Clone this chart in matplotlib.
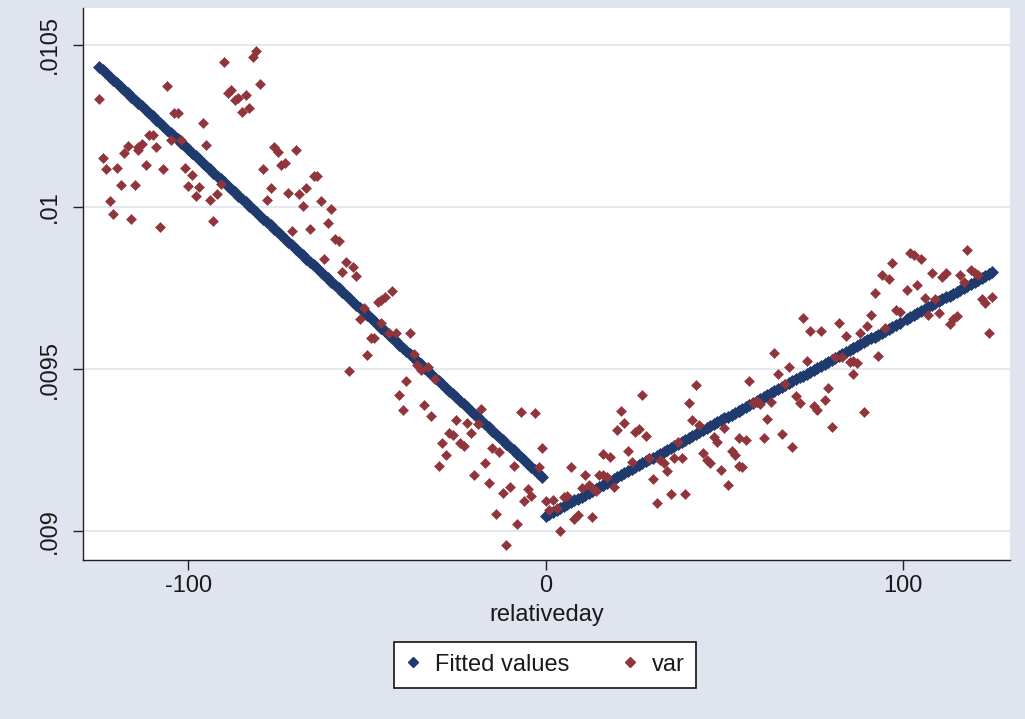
import numpy as np
import matplotlib
matplotlib.use("Agg")
import matplotlib.pyplot as plt
from matplotlib.lines import Line2D

# Observations before the event (relativeday < 0)
pre_days = [-125, -124, -123, -122, -121, -120, -119, -118, -117, -116,
            -115, -114, -114, -113, -112, -111, -110, -109, -108, -107,
            -106, -105, -104, -103, -102, -101, -100, -99, -98, -97,
            -96, -95, -94, -93, -92, -91, -90, -89, -88, -87,
            -86, -85, -84, -83, -82, -81, -80, -79, -78, -77,
            -76, -75, -74, -73, -72, -71, -70, -69, -68, -67,
            -66, -65, -64, -63, -62, -61, -60, -59, -58, -57,
            -56, -55, -54, -53, -52, -51, -50, -49, -48, -47,
            -46, -46, -45, -44, -43, -42, -41, -40, -39, -38,
            -37, -36, -35, -34, -33, -32, -31, -30, -29, -28,
            -27, -26, -25, -24, -23, -22, -21, -20, -19, -18,
            -17, -16, -15, -14, -13, -12, -11, -10, -9, -8,
            -7, -6, -5, -4, -3, -2, -1]
pre_var = [0.010333, 0.010150, 0.010116, 0.010019, 0.009978, 0.010120, 0.010068, 0.010166, 0.010187, 0.009963,
           0.010069, 0.010176, 0.010186, 0.010194, 0.010130, 0.010222, 0.010222, 0.010186, 0.009938, 0.010116,
           0.010374, 0.010207, 0.010289, 0.010289, 0.010207, 0.010120, 0.010064, 0.010100, 0.010035, 0.010063,
           0.010258, 0.010191, 0.010022, 0.009957, 0.010039, 0.010071, 0.010446, 0.010353, 0.010361, 0.010330,
           0.010335, 0.010294, 0.010346, 0.010305, 0.010463, 0.010481, 0.010380, 0.010116, 0.010023, 0.010060,
           0.010185, 0.010171, 0.010128, 0.010136, 0.010044, 0.009926, 0.010176, 0.010040, 0.010004, 0.010060,
           0.009933, 0.010095, 0.010095, 0.010018, 0.009840, 0.009952, 0.009993, 0.009900, 0.009895, 0.009800,
           0.009831, 0.009494, 0.009816, 0.009787, 0.009653, 0.009687, 0.009542, 0.009596, 0.009596, 0.009706,
           0.009713, 0.009642, 0.009721, 0.009611, 0.009741, 0.009612, 0.009420, 0.009373, 0.009463, 0.009612,
           0.009545, 0.009512, 0.009497, 0.009389, 0.009505, 0.009356, 0.009469, 0.009200, 0.009271, 0.009235,
           0.009302, 0.009295, 0.009343, 0.009271, 0.009264, 0.009332, 0.009302, 0.009173, 0.009331, 0.009377,
           0.009210, 0.009147, 0.009255, 0.009053, 0.009245, 0.009117, 0.008957, 0.009135, 0.009200, 0.009023,
           0.009368, 0.009093, 0.009130, 0.009107, 0.009363, 0.009199, 0.009256]

# Observations from the event onward (relativeday >= 0)
post_days = [0, 1, 2, 3, 4, 5, 6, 7, 8, 9,
             10, 11, 12, 13, 13, 14, 15, 16, 16, 17,
             18, 19, 20, 21, 22, 23, 24, 25, 26, 27,
             28, 29, 30, 31, 32, 33, 34, 35, 36, 37,
             38, 39, 40, 41, 42, 43, 44, 45, 46, 47,
             48, 49, 50, 51, 52, 53, 54, 54, 55, 56,
             57, 58, 59, 60, 61, 62, 63, 64, 65, 66,
             67, 68, 69, 70, 71, 72, 73, 74, 75, 76,
             77, 78, 79, 80, 81, 82, 83, 84, 85, 86,
             86, 87, 88, 89, 90, 91, 92, 93, 94, 95,
             96, 97, 98, 99, 101, 102, 103, 104, 105, 106,
             107, 108, 109, 110, 111, 112, 113, 114, 115, 116,
             117, 118, 119, 120, 121, 122, 123, 124, 125]
post_var = [0.009094, 0.009065, 0.009097, 0.009070, 0.009001, 0.009106, 0.009108, 0.009198, 0.009036, 0.009049,
            0.009132, 0.009173, 0.009142, 0.009132, 0.009044, 0.009124, 0.009173, 0.009173, 0.009237, 0.009168,
            0.009229, 0.009137, 0.009312, 0.009371, 0.009332, 0.009248, 0.009214, 0.009306, 0.009314, 0.009420,
            0.009293, 0.009224, 0.009160, 0.009087, 0.009219, 0.009209, 0.009186, 0.009114, 0.009224, 0.009276,
            0.009224, 0.009114, 0.009394, 0.009343, 0.009451, 0.009327, 0.009240, 0.009219, 0.009209, 0.009289,
            0.009276, 0.009190, 0.009317, 0.009142, 0.009248, 0.009235, 0.009286, 0.009201, 0.009198, 0.009281,
            0.009464, 0.009394, 0.009402, 0.009392, 0.009286, 0.009346, 0.009399, 0.009550, 0.009485, 0.009299,
            0.009454, 0.009507, 0.009260, 0.009417, 0.009394, 0.009656, 0.009526, 0.009618, 0.009386, 0.009373,
            0.009618, 0.009406, 0.009440, 0.009322, 0.009538, 0.009643, 0.009538, 0.009602, 0.009523, 0.009526,
            0.009485, 0.009519, 0.009612, 0.009368, 0.009633, 0.009667, 0.009735, 0.009540, 0.009790, 0.009626,
            0.009779, 0.009826, 0.009682, 0.009677, 0.009744, 0.009857, 0.009852, 0.009759, 0.009839, 0.009718,
            0.009667, 0.009795, 0.009715, 0.009674, 0.009785, 0.009797, 0.009639, 0.009653, 0.009664, 0.009790,
            0.009769, 0.009867, 0.009806, 0.009797, 0.009790, 0.009715, 0.009705, 0.009612, 0.009723]

x_ticks = [-100, 0, 100]
x_tick_labels = ["-100", "0", "100"]
y_ticks = [0.009, 0.0095, 0.01, 0.0105]
y_tick_labels = [".009", ".0095", ".01", ".0105"]
legend_labels = ["Fitted values", "var"]

BG = "#dfe4ef"
NAVY = "#1f3a6c"
MAROON = "#90353b"
GRID = "#e1e6f0"
TEXT = "#1a1a1a"

plt.rcParams["font.family"] = ["Liberation Sans", "DejaVu Sans"]


def fitted(days, values):
    d = np.asarray(days, dtype=float)
    v = np.asarray(values, dtype=float)
    slope, intercept = np.polyfit(d, v, 1)
    return d, intercept + slope * d


fig = plt.figure(figsize=(10.25, 7.19), dpi=100, facecolor=BG)
ax = fig.add_axes([0.081, 0.221, 0.904, 0.768])
ax.set_facecolor("white")

ms_fit = 5.8
ms_var = 5.5
for days, vals in ((pre_days, pre_var), (post_days, post_var)):
    fd, fv = fitted(days, vals)
    ax.plot(fd, fv, ls="none", marker="D", ms=ms_fit, color=NAVY, mec=NAVY, mew=0.5, zorder=3)
for days, vals in ((pre_days, pre_var), (post_days, post_var)):
    ax.plot(days, vals, ls="none", marker="D", ms=ms_var, color=MAROON, mec=MAROON, mew=0.4, zorder=4)

ax.set_xlim(-129.5, 129.8)
ax.set_ylim(0.0089105, 0.0106142)

ax.set_xticks(x_ticks)
ax.set_xticklabels(x_tick_labels)
ax.set_yticks(y_ticks)
ax.set_yticklabels(y_tick_labels, rotation=90, va="center")

ax.grid(axis="y", color=GRID, lw=1.3, zorder=0)
ax.set_axisbelow(True)

for side in ("top", "right"):
    ax.spines[side].set_visible(False)
for side in ("left", "bottom"):
    ax.spines[side].set_color("#222222")
    ax.spines[side].set_linewidth(1.0)

ax.tick_params(axis="both", length=7, width=1, color="#222222", labelsize=17, labelcolor=TEXT)
ax.tick_params(axis="y", pad=9)
ax.tick_params(axis="x", pad=4)

ax.set_xlabel("relativeday", fontsize=17, color=TEXT, labelpad=5)

handles = [
    Line2D([], [], ls="none", marker="D", ms=5.0, color=NAVY),
    Line2D([], [], ls="none", marker="D", ms=5.0, color=MAROON),
]
leg = fig.legend(handles, legend_labels, loc="center", bbox_to_anchor=(0.532, 0.0755),
                 ncol=2, frameon=True, fancybox=False, framealpha=1.0, fontsize=17,
                 handlelength=0.6, handletextpad=0.6, columnspacing=2.3,
                 borderpad=0.5, labelcolor=TEXT)
leg.get_frame().set_edgecolor("#111111")
leg.get_frame().set_linewidth(1.2)
leg.get_frame().set_facecolor("white")

fig.savefig("out.png", dpi=100, facecolor=BG)
